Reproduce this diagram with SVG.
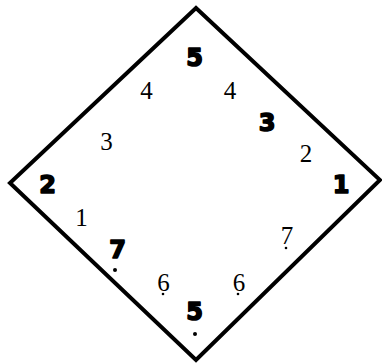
<svg xmlns="http://www.w3.org/2000/svg" width="382" height="363" viewBox="0 0 382 363">
<style>
.b{font-family:"DejaVu Sans",sans-serif;font-weight:bold;font-size:24px;text-anchor:middle;fill:#000;stroke:#000;stroke-width:1.6;stroke-linejoin:round}
.s{font-family:"Liberation Serif",serif;font-size:25px;text-anchor:middle;fill:#000}
.frame{fill:none;stroke:#000;stroke-width:4;stroke-linejoin:miter}
</style>
<rect width="382" height="363" fill="#fff"/>
<g id="frame">
<polygon class="frame" points="196,8 380,180 196,360 10,183"/>
</g>
<g id="labels">
<text class="b" x="194.5" y="65.5">5</text>
<text class="s" x="146.5" y="99">4</text>
<text class="s" x="230" y="99">4</text>
<text class="b" x="267" y="130.5">3</text>
<text class="s" x="106.5" y="150">3</text>
<text class="s" x="306" y="162">2</text>
<text class="b" x="47.5" y="192.5">2</text>
<text class="b" x="341" y="192.5">1</text>
<text class="s" x="81.5" y="226">1</text>
<text class="b" x="117.5" y="257.5">7</text>
<circle cx="115" cy="270" r="2"/>
<text class="s" x="287" y="244">7</text>
<circle cx="286" cy="248" r="1.3"/>
<text class="s" x="163.5" y="291">6</text>
<circle cx="163" cy="294" r="1.3"/>
<text class="s" x="239" y="291">6</text>
<circle cx="238" cy="294" r="1.3"/>
<text class="b" x="194.5" y="319.5">5</text>
<circle cx="195" cy="334" r="2"/>
</g>
</svg>
